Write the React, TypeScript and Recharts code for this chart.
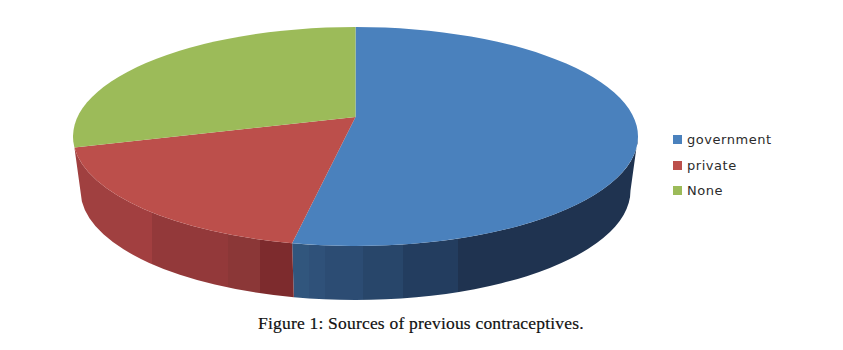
import { PieChart, Pie, Cell, Legend } from 'recharts'

const categories = ['government', 'private', 'None']
const values = [53.6, 19.8, 26.6]
const colors = ['#4a81bd', '#bc4f4b', '#9cbb59']
const caption = 'Figure 1: Sources of previous contraceptives.'

const data = categories.map((name, i) => ({ name, value: values[i] }))

// the top face is an ellipse, and the tip of the slices sits above its middle (perspective)
const SQUASH = 109.5 / 282.5
const TIP_LIFT = 19.5
const DEPTH = 54
const BOTTOM_INSET = 7.5

// stepped shading of the rim: [where the band ends, colour], the original has visible bands
const rimBands: Record<string, [number, string][]> = {
  government: [
    [0.05, '#31567d'],
    [0.095, '#2f5179'],
    [0.205, '#2c4c73'],
    [0.32, '#28466a'],
    [0.48, '#233d5f'],
    [1, '#1f3350'],
  ],
  private: [
    [0.256, '#a04040'],
    [0.356, '#a23f40'],
    [0.706, '#93393a'],
    [0.853, '#8b3737'],
    [1, '#7d2b2d'],
  ],
}

function PieSlice3D(props: any) {
  const { cx, cy, outerRadius, startAngle, endAngle, fill, name } = props
  const ry = outerRadius * SQUASH
  const from = 90 - startAngle
  const to = 90 - endAngle

  const onEllipse = (deg: number, rx: number, rY: number, y0: number) => {
    const a = (deg * Math.PI) / 180
    return `${cx + rx * Math.sin(a)} ${y0 - rY * Math.cos(a)}`
  }

  const top = `M${cx} ${cy - TIP_LIFT} L${onEllipse(from, outerRadius, ry, cy)} A${outerRadius} ${ry} 0 ${to - from > 180 ? 1 : 0} 1 ${onEllipse(to, outerRadius, ry, cy)} Z`

  // only the part of the rim that faces the viewer
  const rimFrom = Math.max(from, 90)
  const rimTo = Math.min(to, 270)
  const hasRim = rimTo > rimFrom
  const bottomRx = outerRadius - BOTTOM_INSET
  const rim = hasRim
    ? `M${onEllipse(rimFrom, outerRadius, ry, cy)} A${outerRadius} ${ry} 0 0 1 ${onEllipse(rimTo, outerRadius, ry, cy)} L${onEllipse(rimTo, bottomRx, ry, cy + DEPTH)} A${bottomRx} ${ry} 0 0 0 ${onEllipse(rimFrom, bottomRx, ry, cy + DEPTH)} Z`
    : ''
  const bands = rimBands[name] || []
  const gradId = `rim-${name}`
  const ax = cx + outerRadius * Math.sin((rimFrom * Math.PI) / 180)
  const bx = cx + outerRadius * Math.sin((rimTo * Math.PI) / 180)
  const [x1, x2] = name === 'private' ? [bx, ax] : [bx, cx + outerRadius]

  return (
    <g>
      {hasRim && (
        <>
          <defs>
            <linearGradient id={gradId} gradientUnits="userSpaceOnUse" x1={x1} x2={x2} y1={0} y2={0}>
              {bands.map(([end, c], i) => [
                <stop key={`${i}a`} offset={i === 0 ? 0 : bands[i - 1][0]} stopColor={c} />,
                <stop key={`${i}b`} offset={end} stopColor={c} />,
              ])}
            </linearGradient>
          </defs>
          <path d={rim} fill={`url(#${gradId})`} />
        </>
      )}
      <path d={top} fill={fill} />
    </g>
  )
}

function LegendList({ payload }: any) {
  return (
    <div>
      {(payload || []).map((entry: any) => (
        <div key={entry.value} style={{ display: 'flex', alignItems: 'center', height: 25.5 }}>
          <span style={{ width: 9, height: 9, background: entry.color, marginRight: 5 }} />
          <span style={{ fontFamily: 'DejaVu Sans', fontSize: 13, letterSpacing: 0.55, color: '#2b2b2b' }}>{entry.value}</span>
        </div>
      ))}
    </div>
  )
}

export default function App() {
  return (
    <div style={{ position: 'absolute', left: 0, top: 0, width: 843, height: 350, background: '#fff' }}>
      <PieChart width={843} height={350} margin={{ top: 0, right: 0, bottom: 0, left: 0 }}>
        <Pie
          data={data}
          dataKey="value"
          nameKey="name"
          cx={355.5}
          cy={136.5}
          innerRadius={0}
          outerRadius={282.5}
          startAngle={90}
          endAngle={-270}
          paddingAngle={0}
          stroke="none"
          shape={PieSlice3D}
          isAnimationActive={false}
        >
          {categories.map((name, i) => (
            <Cell key={name} fill={colors[i]} />
          ))}
        </Pie>
        <Legend
          content={LegendList}
          layout="vertical"
          itemSorter={null}
          wrapperStyle={{ left: 673, top: 127, width: 130, bottom: 'auto', right: 'auto' }}
        />
      </PieChart>
      <div
        style={{
          position: 'absolute',
          left: 258,
          top: 313,
          fontFamily: 'Liberation Serif',
          fontSize: 17.5,
          letterSpacing: 0.2,
          WebkitTextStroke: '0.2px #111',
          whiteSpace: 'nowrap',
          color: '#111',
        }}
      >
        {caption}
      </div>
    </div>
  )
}
